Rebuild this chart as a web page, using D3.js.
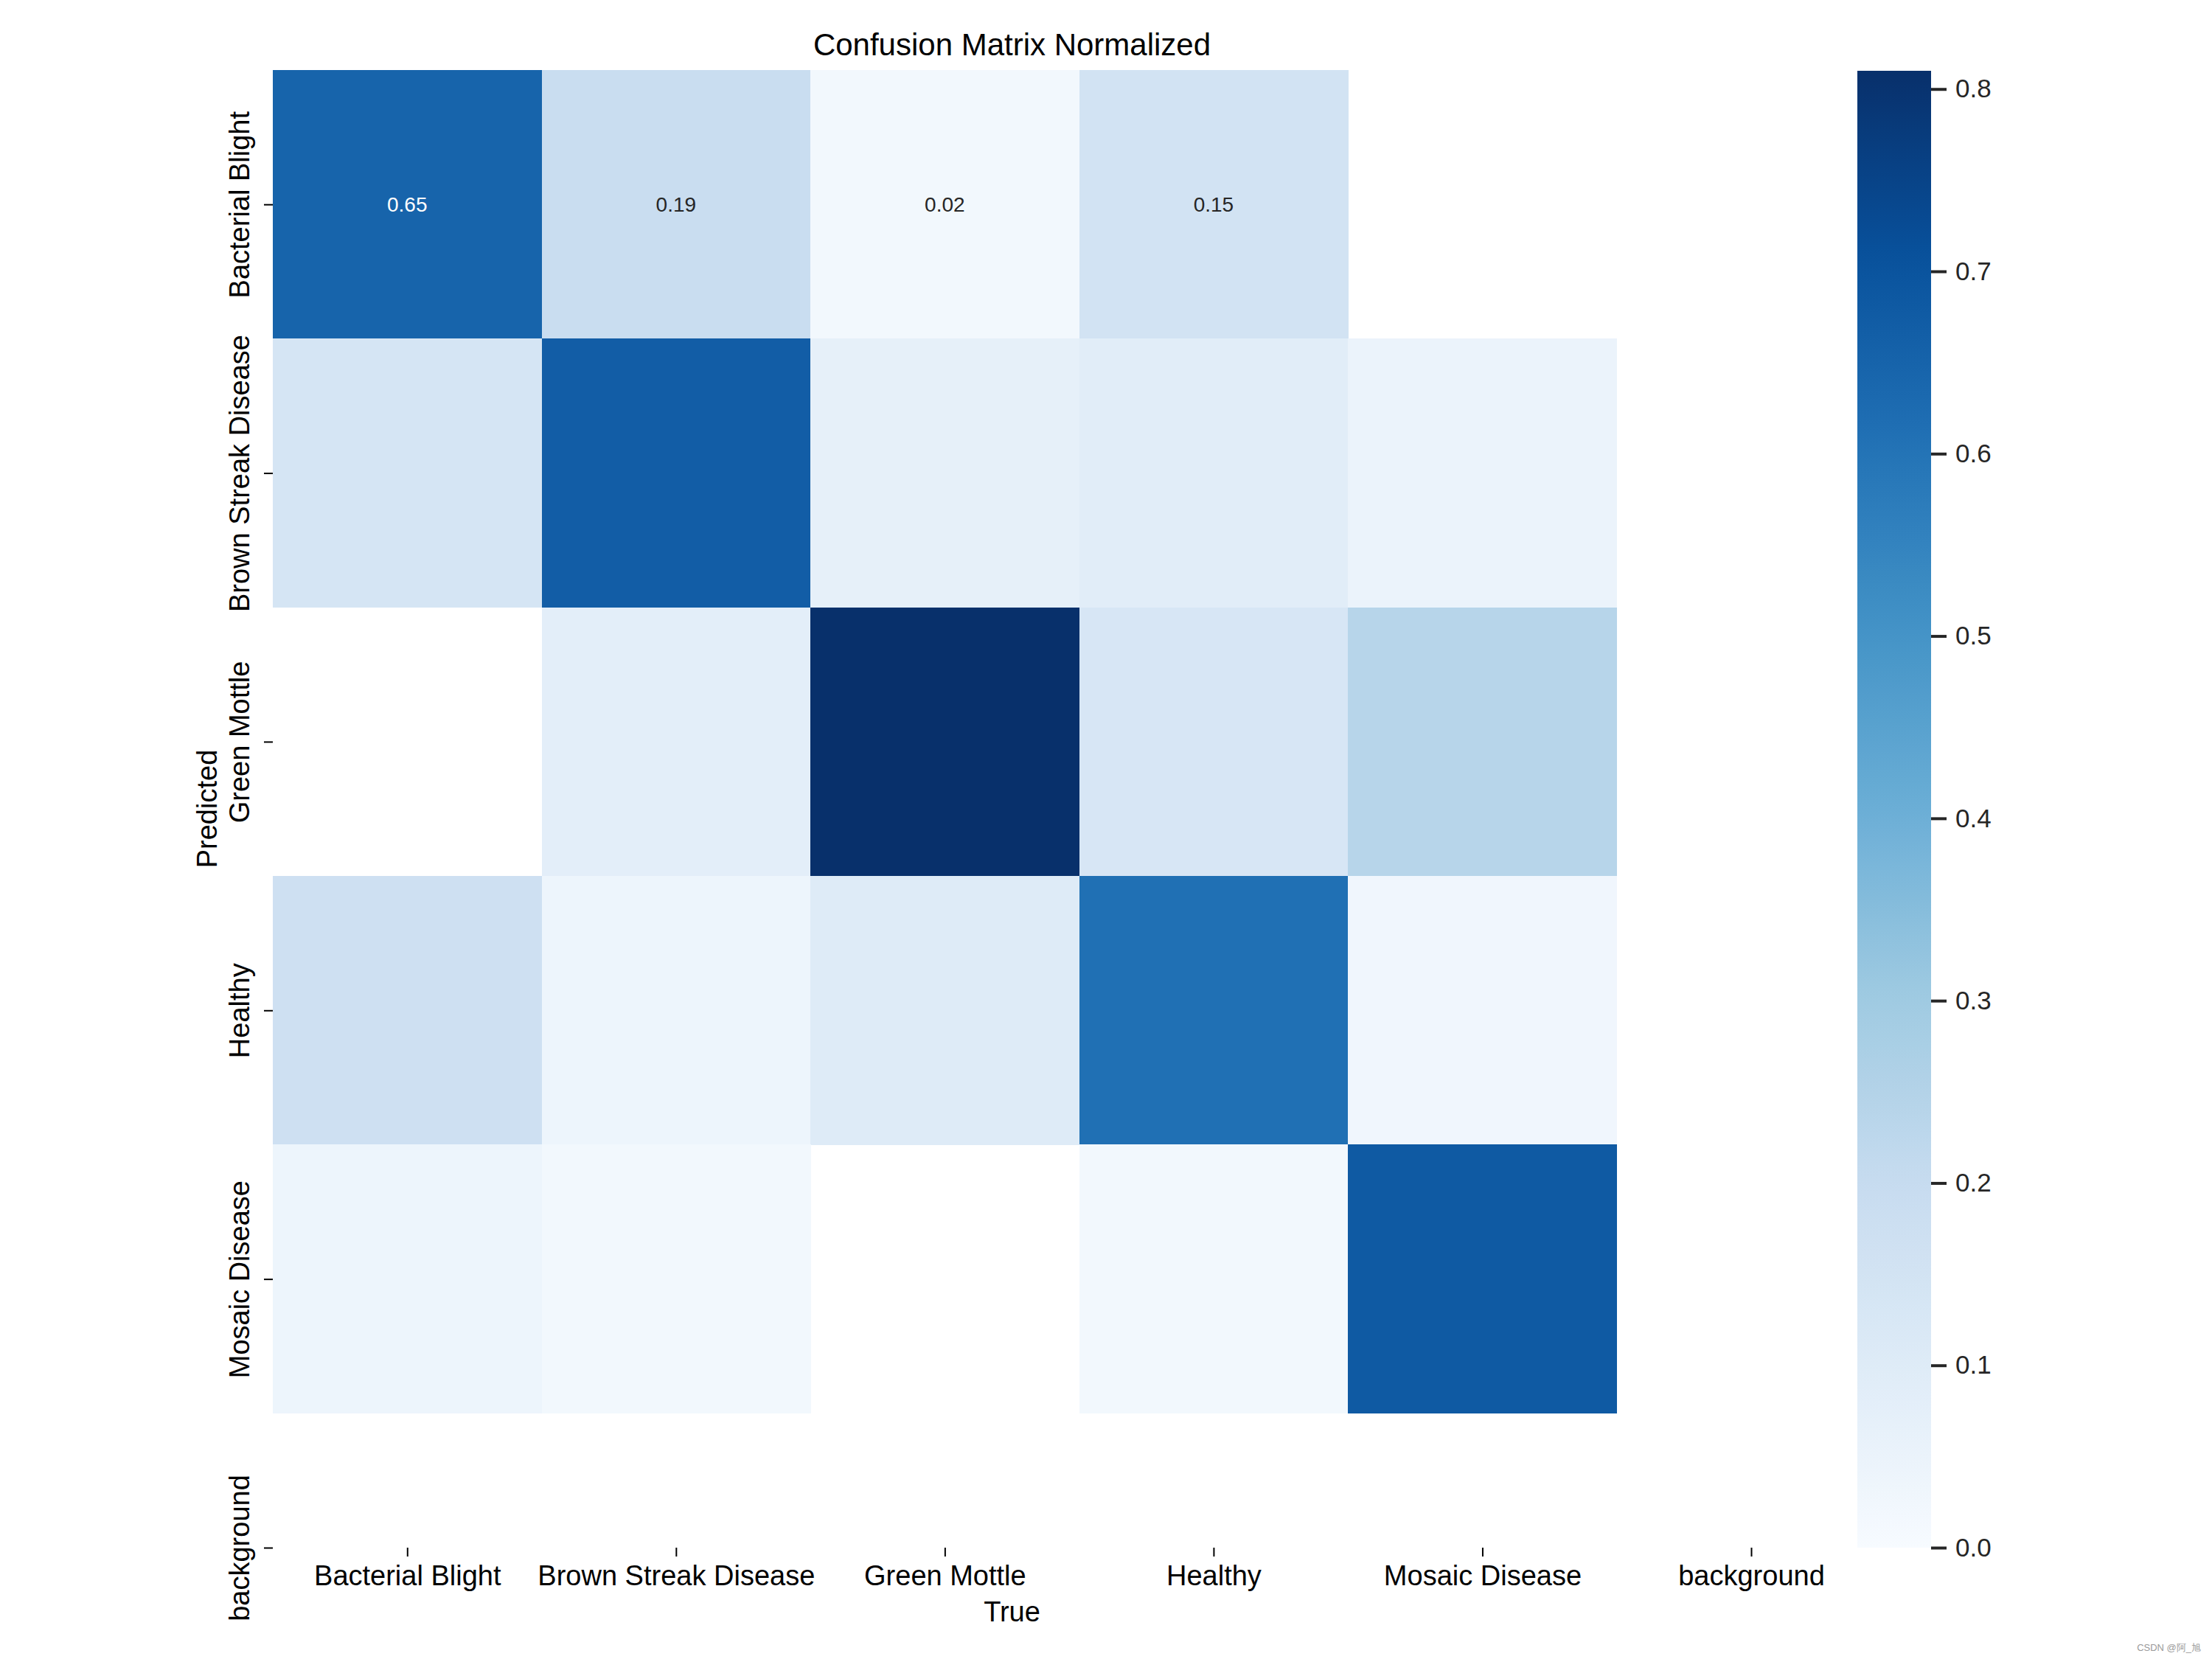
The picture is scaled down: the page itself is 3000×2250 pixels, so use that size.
<!DOCTYPE html>
<html>
<head>
<meta charset="utf-8">
<script src="https://cdn.jsdelivr.net/npm/d3@7"></script>
<style>
  html, body { margin: 0; padding: 0; background: #ffffff; }
  svg { display: block; }
  text { font-family: "Liberation Sans", Arial, sans-serif; }
</style>
</head>
<body>
<svg id="chart" width="3000" height="2250"></svg>
<script>
// ---------------- data ----------------
const classNames = ["Bacterial Blight", "Brown Streak Disease", "Green Mottle", "Healthy", "Mosaic Disease", "background"];
// rows = Predicted, columns = True (null = below threshold, drawn blank)
const predBacterialBlight = [0.65, 0.19, 0.02, 0.15, null, null];
const predBrownStreak     = [0.14, 0.67, 0.07, 0.09, 0.05, null];
const predGreenMottle     = [null, 0.08, 0.81, 0.13, 0.24, null];
const predHealthy         = [0.17, 0.04, 0.10, 0.61, 0.03, null];
const predMosaic          = [0.04, 0.02, null, 0.02, 0.68, null];
const predBackground      = [null, null, null, null, null, null];
const matrixRows = [predBacterialBlight, predBrownStreak, predGreenMottle, predHealthy, predMosaic, predBackground];
const annotatedRows = [0];           // only the first row carries value labels
const colorbarTicks = [0.0, 0.1, 0.2, 0.3, 0.4, 0.5, 0.6, 0.7, 0.8];
const blues9 = ["#f7fbff", "#deebf7", "#c6dbef", "#9ecae1", "#6baed6", "#4292c6", "#2171b5", "#08519c", "#08306b"];
const titleText = "Confusion Matrix Normalized";
const xTitle = "True";
const yTitle = "Predicted";

// ---------------- layout ----------------
const svg = d3.select("#chart");
const ax = { left: 370, right: 2375, top: 95, bottom: 2099 };
const visibleSpan = 5.5;   // last row / column cut in half
const x = d3.scaleLinear().domain([0, visibleSpan]).range([ax.left, ax.right]);
const y = d3.scaleLinear().domain([0, visibleSpan]).range([ax.top, ax.bottom]);

const vmax = d3.max(matrixRows.flat().filter(v => v != null));
const color = d3.scaleLinear()
  .domain(blues9.map((_, i) => vmax * i / (blues9.length - 1)))
  .range(blues9)
  .interpolate(d3.interpolateRgb)
  .clamp(true);

const defs = svg.append("defs");
defs.append("clipPath").attr("id", "axclip")
  .append("rect")
  .attr("x", ax.left).attr("y", ax.top)
  .attr("width", ax.right - ax.left).attr("height", ax.bottom - ax.top);

// cells
const cells = [];
matrixRows.forEach((row, r) => row.forEach((v, c) => cells.push({ r, c, v })));

const gCells = svg.append("g").attr("clip-path", "url(#axclip)");
gCells.selectAll("rect")
  .data(cells.filter(d => d.v != null))
  .join("rect")
  .attr("x", d => x(d.c))
  .attr("y", d => y(d.r))
  .attr("width", d => x(d.c + 1) - x(d.c) + 0.5)
  .attr("height", d => y(d.r + 1) - y(d.r) + 0.5)
  .attr("fill", d => color(d.v))
  .attr("shape-rendering", "crispEdges");

// annotations
function lum(c) {
  const rgb = d3.rgb(c);
  const f = v => { v /= 255; return v <= 0.03928 ? v / 12.92 : Math.pow((v + 0.055) / 1.055, 2.4); };
  return 0.2126 * f(rgb.r) + 0.7152 * f(rgb.g) + 0.0722 * f(rgb.b);
}
svg.append("g").selectAll("text")
  .data(cells.filter(d => d.v != null && annotatedRows.includes(d.r)))
  .join("text")
  .attr("x", d => x(d.c + 0.5))
  .attr("y", d => y(d.r + 0.5))
  .attr("text-anchor", "middle")
  .attr("dominant-baseline", "central")
  .attr("font-size", 28)
  .attr("fill", d => lum(color(d.v)) > 0.408 ? "#262626" : "#ffffff")
  .text(d => d3.format(".2f")(d.v));

// x axis
const tickPos = d3.range(classNames.length).map(i => i + 0.5);
const xAxis = d3.axisBottom(x).tickValues(tickPos)
  .tickFormat((d, i) => classNames[i]).tickSize(12).tickPadding(12);
const gx = svg.append("g").attr("transform", `translate(0,${ax.bottom})`).call(xAxis);
gx.select(".domain").remove();
gx.selectAll(".tick line").attr("stroke", "#000").attr("stroke-width", 2);
gx.selectAll(".tick text").attr("font-size", 38).attr("fill", "#000")
  .attr("font-family", "'Liberation Sans', Arial, sans-serif");

// y axis (rotated labels)
const yAxis = d3.axisLeft(y).tickValues(tickPos)
  .tickFormat((d, i) => classNames[i]).tickSize(12).tickPadding(12);
const gy = svg.append("g").attr("transform", `translate(${ax.left},0)`).call(yAxis);
gy.select(".domain").remove();
gy.selectAll(".tick line").attr("stroke", "#000").attr("stroke-width", 2);
gy.selectAll(".tick text")
  .attr("font-size", 38).attr("fill", "#000")
  .attr("font-family", "'Liberation Sans', Arial, sans-serif")
  .attr("x", null).attr("dy", null)
  .attr("text-anchor", "middle")
  .attr("transform", "translate(-32,0) rotate(-90)");

// titles
svg.append("text").attr("x", (ax.left + ax.right) / 2).attr("y", 75)
  .attr("text-anchor", "middle").attr("font-size", 42).attr("fill", "#000").text(titleText);
svg.append("text").attr("x", (ax.left + ax.right) / 2).attr("y", 2199)
  .attr("text-anchor", "middle").attr("font-size", 38).attr("fill", "#000").text(xTitle);
svg.append("text")
  .attr("transform", `translate(294,${(ax.top + ax.bottom) / 2}) rotate(-90)`)
  .attr("text-anchor", "middle").attr("font-size", 38).attr("fill", "#000").text(yTitle);

// colorbar
const cb = { left: 2519, right: 2619, top: 96, bottom: 2099 };
const cbScale = d3.scaleLinear().domain([0, vmax]).range([cb.bottom, cb.top]);
const grad = defs.append("linearGradient").attr("id", "cbgrad")
  .attr("x1", 0).attr("y1", 1).attr("x2", 0).attr("y2", 0);
d3.range(0, 1.0001, 0.02).forEach(t => {
  grad.append("stop").attr("offset", t).attr("stop-color", color(t * vmax));
});
svg.append("rect").attr("x", cb.left).attr("y", cb.top)
  .attr("width", cb.right - cb.left).attr("height", cb.bottom - cb.top)
  .attr("fill", "url(#cbgrad)");
const cbAxis = d3.axisRight(cbScale).tickValues(colorbarTicks)
  .tickFormat(d3.format(".1f")).tickSize(21).tickPadding(12);
const gcb = svg.append("g").attr("transform", `translate(${cb.right},0)`).call(cbAxis);
gcb.select(".domain").remove();
gcb.selectAll(".tick line").attr("stroke", "#262626").attr("stroke-width", 4);
gcb.selectAll(".tick text").attr("font-size", 35).attr("fill", "#262626")
  .attr("font-family", "'Liberation Sans', Arial, sans-serif");

// watermark
svg.append("text").attr("x", 2985).attr("y", 2239).attr("text-anchor", "end")
  .attr("font-size", 13).attr("fill", "#9a9a9a")
  .attr("font-family", "'Noto Sans CJK SC', sans-serif")
  .text("CSDN @阿_旭");
</script>
</body>
</html>
